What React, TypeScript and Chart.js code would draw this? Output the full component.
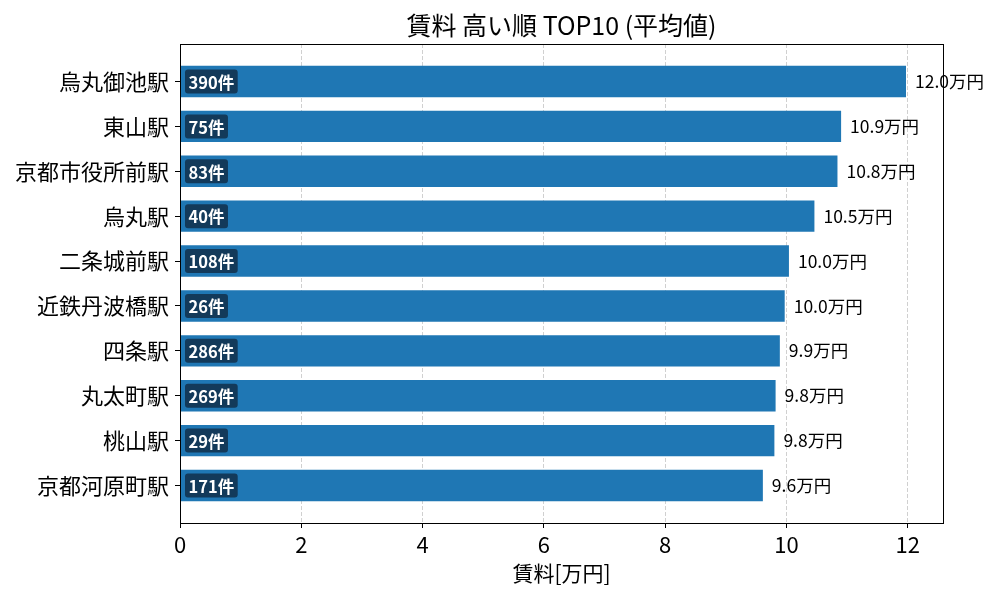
import React, { useRef, useEffect } from "react";
import { Chart, registerables } from "chart.js";

Chart.register(...registerables);

const FONT = "'Noto Sans CJK JP', 'Noto Sans', sans-serif";

// 駅名（上から順）
const stations = [
  "烏丸御池駅",
  "東山駅",
  "京都市役所前駅",
  "烏丸駅",
  "二条城前駅",
  "近鉄丹波橋駅",
  "四条駅",
  "丸太町駅",
  "桃山駅",
  "京都河原町駅",
];
// 平均賃料 [万円]
const rents = [11.97, 10.9, 10.84, 10.46, 10.04, 9.97, 9.89, 9.82, 9.8, 9.61];
// 件数
const counts = [390, 75, 83, 40, 108, 26, 286, 269, 29, 171];
const xTicks = [0, 2, 4, 6, 8, 10, 12];

const title = "賃料 高い順 TOP10 (平均値)";
const xTitle = "賃料[万円]";

const labelsPlugin = {
  id: "labels",
  afterDatasetsDraw(chart: any) {
    const { ctx, chartArea } = chart;
    const meta = chart.getDatasetMeta(0);
    ctx.save();
    meta.data.forEach((bar: any, i: number) => {
      // 値ラベル
      ctx.font = `17.5px ${FONT}`;
      ctx.fillStyle = "#000";
      ctx.textAlign = "left";
      ctx.textBaseline = "middle";
      ctx.fillText(rents[i].toFixed(1) + "万円", bar.x + 9, bar.y);

      // 件数バッジ
      const txt = counts[i] + "件";
      ctx.font = `bold 16.5px ${FONT}`;
      const w = ctx.measureText(txt).width + 7;
      const h = 24;
      const bx = chartArea.left + 5;
      const by = bar.y - h / 2;
      ctx.fillStyle = "#133a5a";
      ctx.beginPath();
      ctx.roundRect(bx, by, w, h, 3);
      ctx.fill();
      ctx.fillStyle = "#fff";
      ctx.fillText(txt, bx + 3.5, bar.y + 1);
    });
    ctx.restore();
  },
  afterDraw(chart: any) {
    const { ctx, chartArea } = chart;
    ctx.save();
    ctx.strokeStyle = "#000";
    ctx.lineWidth = 1;
    ctx.strokeRect(
      Math.round(chartArea.left) + 0.5,
      Math.round(chartArea.top) + 0.5,
      Math.round(chartArea.right - chartArea.left),
      Math.round(chartArea.bottom - chartArea.top)
    );
    const cx = (chartArea.left + chartArea.right) / 2;
    ctx.fillStyle = "#000";
    ctx.textAlign = "center";
    ctx.textBaseline = "middle";
    ctx.font = `25px ${FONT}`;
    ctx.fillText(title, cx, 25);
    ctx.font = `21px ${FONT}`;
    ctx.fillText(xTitle, cx, 573);
    ctx.restore();
  },
};

export default function App() {
  const chartRef = useRef<HTMLCanvasElement>(null);

  useEffect(() => {
    if (!chartRef.current) return;
    const chart = new Chart(chartRef.current, {
      type: "bar",
      data: {
        datasets: [
          {
            data: rents.map((v, i) => ({ x: v, y: i })),
            backgroundColor: "#1f77b4",
            borderWidth: 0,
            categoryPercentage: 1,
            barPercentage: 0.7,
          },
        ],
      },
      options: {
        indexAxis: "y",
        responsive: false,
        animation: false,
        layout: { padding: { top: 44, right: 57, bottom: 0, left: 0 } },
        plugins: {
          legend: { display: false },
          tooltip: { enabled: false },
          title: { display: false },
        },
        scales: {
          x: {
            type: "linear",
            min: 0,
            max: 12.58,
            afterBuildTicks: (scale: any) => {
              scale.ticks = xTicks.map((v) => ({ value: v }));
            },
            afterFit: (scale: any) => {
              scale.height = 77;
            },
            grid: {
              color: "rgba(176,176,176,0.6)",
              lineWidth: 1,
              tickLength: 5,
              tickColor: "#000",
              tickBorderDash: [],
            },
            border: { display: false, dash: [4, 2] },
            ticks: {
              color: "#000",
              font: { family: FONT, size: 22 },
              padding: 3,
              maxRotation: 0,
            },
          },
          y: {
            type: "linear",
            reverse: true,
            offset: false,
            min: -0.835,
            max: 9.835,
            afterBuildTicks: (scale: any) => {
              scale.ticks = stations.map((_, i) => ({ value: i }));
            },
            afterFit: (scale: any) => {
              scale.width = 180;
            },
            grid: {
              offset: false,
              drawOnChartArea: false,
              tickLength: 5,
              tickColor: "#000",
            },
            border: { display: false },
            ticks: {
              color: "#000",
              font: { family: FONT, size: 22 },
              padding: 6,
              callback: (v: any) => stations[v] ?? "",
            },
          },
        },
      },
      plugins: [labelsPlugin],
    } as any);
    return () => chart.destroy();
  }, []);

  return (
    <div
      style={{
        position: "fixed",
        left: 0,
        top: 0,
        width: 1000,
        height: 600,
        background: "#fff",
      }}
    >
      <canvas ref={chartRef} width={1000} height={600} />
    </div>
  );
}
